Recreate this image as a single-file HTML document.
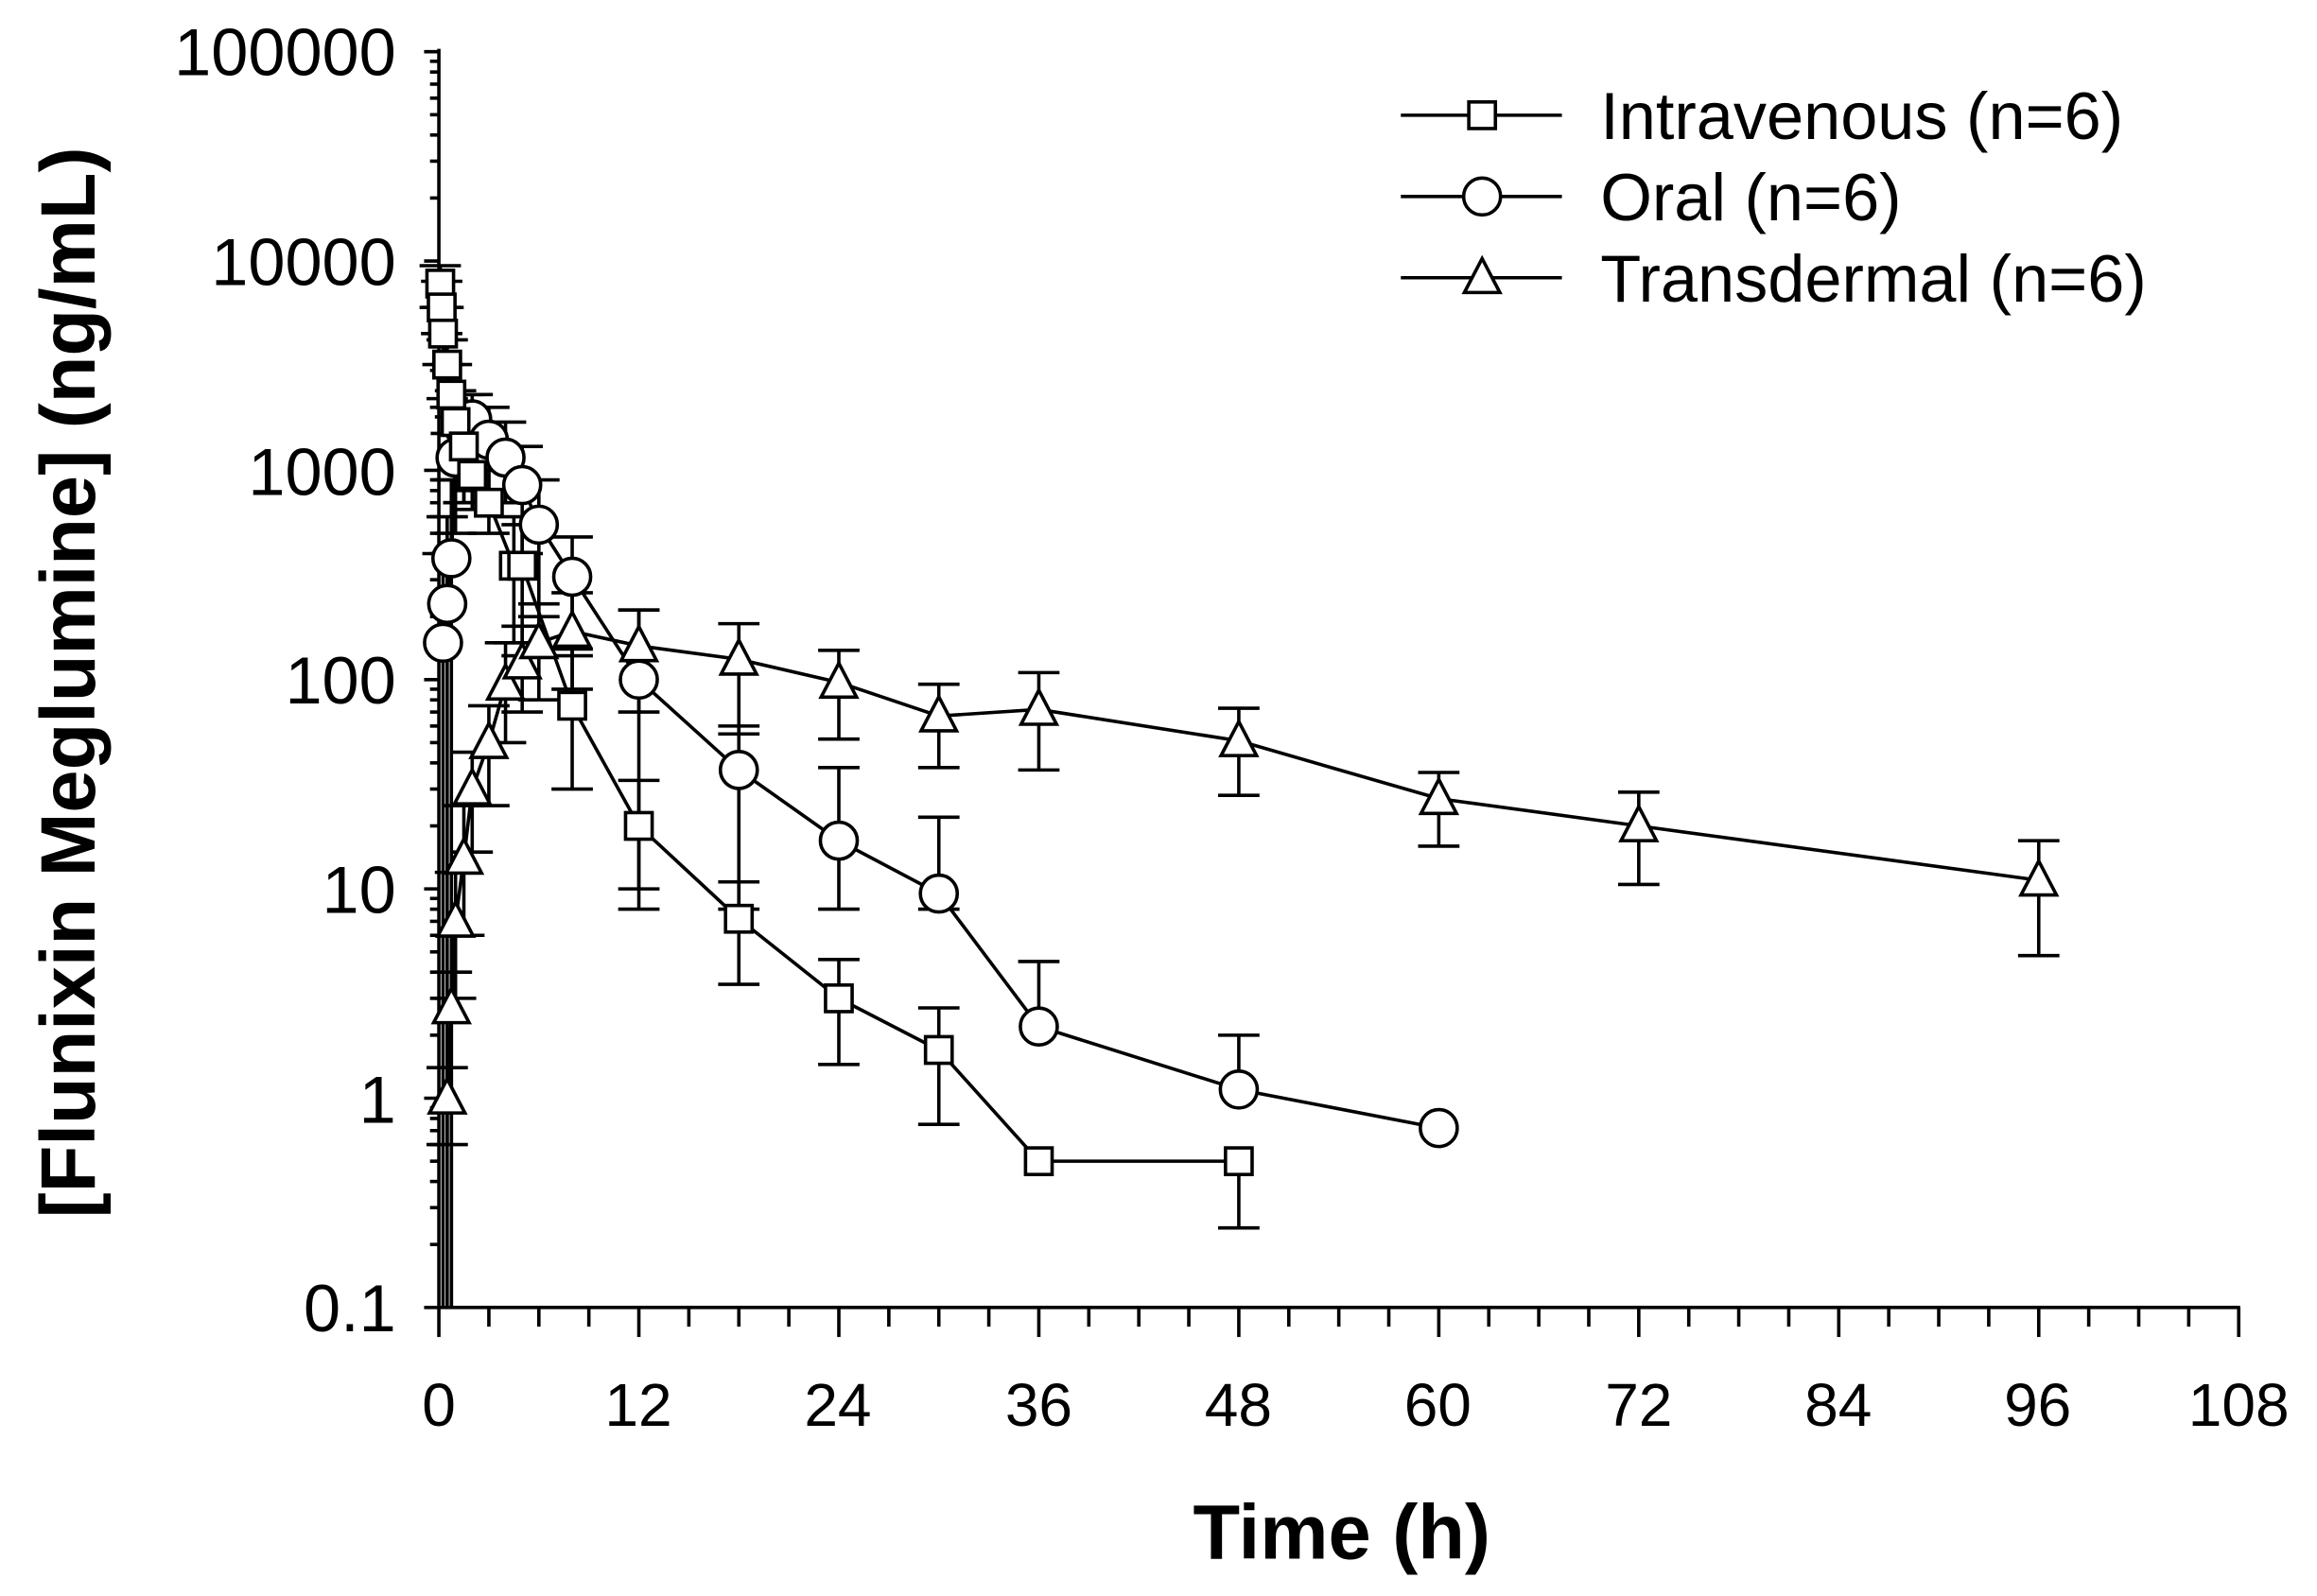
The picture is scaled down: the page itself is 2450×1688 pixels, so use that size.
<!DOCTYPE html>
<html><head><meta charset="utf-8"><style>
html,body{margin:0;padding:0;background:#fff}
svg{display:block}
text{font-family:"Liberation Sans",Arial,sans-serif;fill:#000}
</style></head><body>
<svg id="s" width="2450" height="1688" viewBox="0 0 1568 1080.3" xmlns="http://www.w3.org/2000/svg">
<g font-size="45" text-anchor="end">
<text x="268" y="51">100000</text>
<text x="268" y="193">10000</text>
<text x="268" y="335">1000</text>
<text x="268" y="476">100</text>
<text x="268" y="618">10</text>
<text x="268" y="760">1</text>
<text x="268" y="901">0.1</text>
</g>
<g font-size="41" text-anchor="middle">
<text x="297" y="965">0</text><text x="432" y="965">12</text><text x="567" y="965">24</text>
<text x="703" y="965">36</text><text x="838" y="965">48</text><text x="973" y="965">60</text>
<text x="1109" y="965">72</text><text x="1244" y="965">84</text><text x="1379" y="965">96</text>
<text x="1515" y="965">108</text>
</g>
<text x="908" y="1055" font-size="52" font-weight="bold" text-anchor="middle">Time (h)</text>
<text transform="translate(64,462) rotate(-90)" font-size="52" font-weight="bold" text-anchor="middle">[Flunixin Meglumine] (ng/mL)</text>
<g font-size="45">
<text x="1083" y="94">Intravenous (n=6)</text>
<text x="1083" y="149">Oral (n=6)</text>
<text x="1083" y="204">Transdermal (n=6)</text>
</g>
<g id="g" stroke="#000" stroke-width="2.3" fill="none"></g>
</svg>
<script>
var g=document.getElementById('g'),NS='http://www.w3.org/2000/svg';
function el(n,a){var e=document.createElementNS(NS,n);for(var k in a)e.setAttribute(k,a[k]);g.appendChild(e);return e;}
function X(t){return 297+t*11.278;}
function Y(v){return 35+(5-Math.log10(v))*141.67;}
el('line',{x1:297,y1:33,x2:297,y2:886});
el('line',{x1:296,y1:885,x2:1516,y2:885});
for(var d=-1;d<5;d++)for(var m=1;m<10;m++){var y=Y(m*Math.pow(10,d));el('line',{x1:m==1?287:291,y1:y,x2:297,y2:y});}
el('line',{x1:287,y1:35,x2:297,y2:35});
for(var t=0;t<=108;t+=3){var x=X(t);el('line',{x1:x,y1:885,x2:x,y2:t%12==0?905:898});}
var iv=[[0.083,7800,9500,6000],[0.17,6000,8000,4500],[0.25,4500,6000,3200],[0.5,3200,4200,2200],[0.75,2300,3200,1500],[1,1700,2400,900],[1.5,1300,1800,700],[2,950,1400,650],[3,700,1000,500],[4.5,350,600,150],[5,350,550,130],[8,75,140,30],[12,20,33,8],[18,7.2,10.8,3.5],[24,3,4.6,1.45],[30,1.7,2.7,0.75],[36,0.5,0.5,0.5],[48,0.5,0.5,0.24]];
var or=[[0.25,150,400,0.1],[0.5,230,600,0.1],[0.75,380,900,0.1],[1,1150,1800,500],[1.5,1600,2300,700],[2,1750,2300,800],[3,1400,2000,800],[4,1150,1700,700],[5,850,1300,400],[6,550,900,200],[8,310,480,130],[12,100,215,10],[18,37,60,8],[24,17,38,8],[30,9.5,22,8],[36,2.2,4.5,2.2],[48,1.1,2,1.1],[60,0.72,0.72,0.72]];
var tr=[[0.5,1.0,1.4,0.6],[0.75,2.7,4,0.1],[1,7,12,3],[1.5,14,25,6],[2,30,45,15],[3,50,75,25],[4,95,150,50],[5,120,180,70],[6,150,230,80],[8,170,260,90],[12,145,215,70],[18,125,185,55],[24,97,138,52],[30,67,95,38],[36,72,108,37],[48,51,73,28],[60,27,36,16],[72,20,29,10.5],[96,11,17,4.8]];
function bars(d){d.forEach(function(p){var x=X(p[0]);if(p[2]>p[1]){el('line',{x1:x,y1:Y(p[1]),x2:x,y2:Y(p[2])});el('line',{x1:x-14,y1:Y(p[2]),x2:x+14,y2:Y(p[2])});}
 if(p[3]<p[1]){var lo=Math.max(p[3],0.1);el('line',{x1:x,y1:Y(p[1]),x2:x,y2:Y(lo)});if(p[3]>0.1)el('line',{x1:x-14,y1:Y(lo),x2:x+14,y2:Y(lo)});}});}
function line(d){el('polyline',{points:d.map(function(p){return X(p[0])+','+Y(p[1]);}).join(' ')});}
function sq(x,y){el('rect',{x:x-9,y:y-9,width:18,height:18,fill:'#fff'});}
function ci(x,y){el('circle',{cx:x,cy:y,r:12.5,fill:'#fff'});}
function tri(x,y){el('polygon',{points:(x-12)+','+(y+10)+' '+(x+12)+','+(y+10)+' '+x+','+(y-13),fill:'#fff'});}
[[tr,tri],[or,ci],[iv,sq]].forEach(function(s){bars(s[0]);line(s[0]);});
[[tr,tri],[or,ci],[iv,sq]].forEach(function(s){s[0].forEach(function(p){s[1](X(p[0]),Y(p[1]));});});
[[78,sq],[133,ci],[188,tri]].forEach(function(l){el('line',{x1:948,y1:l[0],x2:1057,y2:l[0]});l[1](1003,l[0]);});
</script>
</body></html>
